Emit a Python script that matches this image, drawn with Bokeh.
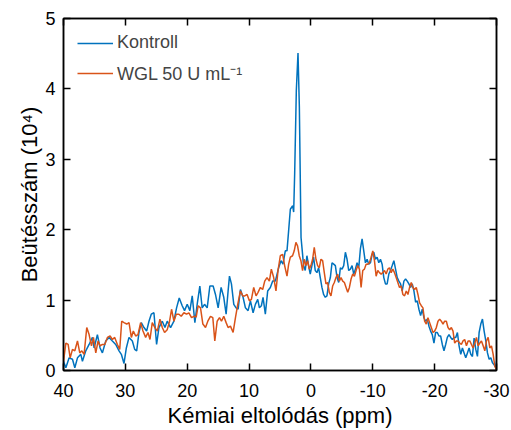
from bokeh.plotting import figure
from bokeh.models import Range1d, FixedTicker, LinearAxis, Legend, LegendItem, ColumnDataSource
from bokeh.embed import file_html
from bokeh.resources import INLINE

# ---- data ----
kontroll_ppm = [
    40.0, 39.62, 39.09, 38.55, 38.17, 37.74, 37.2, 36.94, 36.4, 35.86,
    35.32, 35.05, 34.52, 34.09, 33.71, 33.17, 32.63, 32.1, 31.56, 31.02,
    30.65, 30.22, 29.84, 29.41, 28.87, 28.49, 28.17, 27.8, 27.42, 26.99,
    26.56, 26.18, 25.81, 25.38, 24.95, 24.57, 24.03, 23.6, 23.23, 22.69,
    22.15, 21.72, 21.29, 20.81, 20.43, 20.0, 19.57, 19.19, 18.76, 18.39,
    17.96, 17.58, 17.2, 16.77, 16.34, 15.81, 15.43, 15.0, 14.52, 14.09,
    13.71, 13.39, 13.17, 12.85, 12.47, 12.1, 11.77, 11.4, 10.97, 10.59,
    10.16, 9.78, 9.35, 8.98, 8.6, 8.33, 8.01, 7.74, 7.37, 6.99,
    6.56, 6.18, 5.75, 5.22, 4.84, 4.52, 4.14, 3.87, 3.6, 3.33,
    2.95, 2.79, 2.63, 2.36, 2.09, 1.87, 1.6,
    1.35, 1.19, 0.92, 0.65, 0.38, 0.11, -0.16, -0.43, -0.7, -0.97,
    -1.24, -1.51, -1.78, -2.05, -2.32, -2.59, -2.86, -3.14, -3.41, -3.68,
    -3.95, -4.22, -4.49, -4.76, -5.03, -5.3, -5.57, -5.84, -6.11, -6.38,
    -6.65, -6.92, -7.19, -7.46, -7.73, -8.0, -8.27, -8.54, -8.81, -9.08,
    -9.35, -9.62, -9.89, -10.16, -10.43, -10.7, -10.97, -11.24, -11.51, -11.78,
    -12.05, -12.32, -12.59, -12.86, -13.14, -13.41, -13.68, -13.95, -14.22, -14.49,
    -14.76, -15.03, -15.3, -15.57, -15.84, -16.11, -16.38, -16.65, -16.92, -17.19,
    -17.46, -17.73, -18.0, -18.27, -18.54, -18.81, -19.08, -19.35, -19.62, -19.89,
    -20.16, -20.43, -20.7, -20.97, -21.24, -21.51, -21.78, -22.05, -22.32, -22.59,
    -22.86, -23.14, -23.41, -23.68, -23.95, -24.22, -24.49, -24.76, -25.03, -25.3,
    -25.57, -25.84, -26.11, -26.38, -26.65, -26.92, -27.19, -27.46, -27.73, -28.0,
    -28.27, -28.54, -28.81, -29.08, -29.35, -29.62, -29.89, -30.0,
]
kontroll_counts = [
    0.13, 0.04, 0.18, 0.16, 0.04, 0.18, 0.23, 0.13, 0.28, 0.37,
    0.47, 0.32, 0.51, 0.32, 0.25, 0.42, 0.47, 0.42, 0.37, 0.28,
    0.23, 0.10, 0.32, 0.47, 0.42, 0.30, 0.28, 0.54, 0.68, 0.61,
    0.56, 0.70, 0.80, 0.82, 0.37, 0.61, 0.70, 0.61, 0.70, 0.61,
    0.70, 0.89, 1.03, 0.92, 0.85, 0.94, 0.85, 1.06, 0.68, 0.94,
    1.20, 0.89, 0.94, 0.89, 1.20, 1.20, 1.08, 0.89, 1.18, 1.04,
    0.80, 1.13, 1.34, 1.23, 0.94, 0.89, 0.87, 1.15, 1.04, 0.89,
    0.85, 0.99, 0.82, 0.94, 1.01, 0.89, 0.92, 1.04, 0.80, 1.13,
    1.18, 1.27, 1.27, 1.46, 1.56, 1.51, 1.70, 1.70, 1.99, 2.29,
    2.34, 2.25, 2.79, 3.98, 4.51, 3.74, 1.89,
    1.65, 1.49, 1.42, 1.63, 1.49, 1.37, 1.49, 1.61, 1.42, 1.39,
    1.46, 1.32, 1.18, 1.08, 1.04, 1.06, 1.23, 1.32, 1.53, 1.51,
    1.49, 1.32, 1.25, 1.46, 1.44, 1.49, 1.68, 1.58, 1.42, 1.44,
    1.49, 1.37, 1.44, 1.53, 1.46, 1.73, 1.87, 1.70, 1.53, 1.58,
    1.51, 1.53, 1.65, 1.68, 1.58, 1.61, 1.53, 1.58, 1.51, 1.32,
    1.23, 1.23, 1.37, 1.42, 1.49, 1.56, 1.44, 1.32, 1.27, 1.23,
    1.13, 1.27, 1.30, 1.27, 1.23, 1.18, 1.23, 1.13, 0.97, 0.99,
    0.87, 0.78, 0.87, 0.75, 0.70, 0.73, 0.63, 0.56, 0.51, 0.39,
    0.54, 0.54, 0.49, 0.49, 0.37, 0.28, 0.37, 0.47, 0.51, 0.47,
    0.44, 0.47, 0.47, 0.54, 0.35, 0.23, 0.32, 0.25, 0.18, 0.25,
    0.32, 0.23, 0.20, 0.46, 0.30, 0.20, 0.54, 0.66, 0.73, 0.56,
    0.42, 0.25, 0.16, 0.18, 0.11, 0.08, 0.04, 0.13,
]

wgl_ppm = [
    40.0, 39.62, 39.25, 38.92, 38.55, 38.17, 37.74, 37.37, 37.04, 36.67,
    36.24, 35.86, 35.48, 35.16, 34.78, 34.41, 34.09, 33.71, 33.33, 32.9,
    32.47, 32.1, 31.72, 31.29, 30.91, 30.59, 30.22, 29.78, 29.41, 29.03,
    28.71, 28.33, 27.96, 27.53, 27.15, 26.72, 26.34, 26.02, 25.65, 25.22,
    24.84, 24.41, 24.03, 23.66, 23.23, 22.85, 22.53, 22.15, 21.77, 21.34,
    20.97, 20.54, 20.11, 19.73, 19.3, 18.92, 18.55, 18.23, 17.85, 17.47,
    17.04, 16.67, 16.24, 15.86, 15.54, 15.16, 14.78, 14.46, 14.09, 13.71,
    13.39, 13.01, 12.58, 12.2, 11.83, 11.4, 11.02, 10.7, 10.32, 9.95,
    9.62, 9.25, 8.87, 8.55, 8.17, 7.8, 7.47, 7.1, 6.72, 6.4,
    6.02, 5.65, 5.32, 4.95, 4.57, 4.25, 3.87, 3.6, 3.33,
    2.97, 2.7, 2.43, 2.16, 1.89, 1.62, 1.35, 1.08, 0.81, 0.54,
    0.27, 0.0, -0.27, -0.54, -0.81, -1.08, -1.35, -1.62, -1.89, -2.16,
    -2.43, -2.7, -2.97, -3.24, -3.51, -3.78, -4.05, -4.32, -4.59, -4.86,
    -5.14, -5.41, -5.68, -5.95, -6.22, -6.49, -6.76, -7.03, -7.3, -7.57,
    -7.84, -8.11, -8.38, -8.65, -8.92, -9.19, -9.46, -9.73, -10.0, -10.27,
    -10.54, -10.81, -11.08, -11.35, -11.62, -11.89, -12.16, -12.43, -12.7, -12.97,
    -13.24, -13.51, -13.78, -14.05, -14.32, -14.59, -14.86, -15.14, -15.41, -15.68,
    -15.95, -16.22, -16.49, -16.76, -17.03, -17.3, -17.57, -17.84, -18.11, -18.38,
    -18.65, -18.92, -19.19, -19.46, -19.73, -20.0, -20.27, -20.54, -20.81, -21.08,
    -21.35, -21.62, -21.89, -22.16, -22.43, -22.7, -22.97, -23.24, -23.51, -23.78,
    -24.05, -24.32, -24.59, -24.86, -25.14, -25.41, -25.68, -25.95, -26.22, -26.49,
    -26.76, -27.03, -27.3, -27.57, -27.84, -28.11, -28.38, -28.65, -28.92, -29.19,
    -29.46, -29.73, -30.0,
]
wgl_counts = [
    0.13, 0.39, 0.37, 0.18, 0.30, 0.28, 0.42, 0.25, 0.28, 0.23,
    0.61, 0.51, 0.35, 0.47, 0.25, 0.42, 0.35, 0.37, 0.37, 0.47,
    0.49, 0.44, 0.47, 0.37, 0.30, 0.70, 0.68, 0.66, 0.68, 0.47,
    0.56, 0.49, 0.51, 0.68, 0.56, 0.47, 0.54, 0.44, 0.68, 0.61,
    0.56, 0.73, 0.61, 0.54, 0.58, 0.70, 0.87, 0.70, 0.80, 0.80,
    0.77, 0.82, 0.80, 0.82, 0.75, 0.77, 0.76, 0.92, 0.89, 0.66,
    0.61, 0.70, 0.77, 0.75, 0.42, 0.70, 0.75, 0.70, 0.77, 0.68,
    0.61, 0.63, 0.54, 0.75, 0.94, 1.13, 1.06, 1.06, 1.08, 0.99,
    1.01, 1.18, 1.06, 1.11, 1.18, 1.15, 1.27, 1.32, 1.27, 1.44,
    1.32, 1.13, 1.42, 1.63, 1.65, 1.49, 1.34, 1.51, 1.61,
    1.63, 1.70, 1.82, 1.77, 1.63, 1.56, 1.42, 1.58, 1.49, 1.56,
    1.44, 1.49, 1.58, 1.75, 1.58, 1.49, 1.46, 1.58, 1.56, 1.39,
    1.23, 1.25, 1.11, 1.06, 1.20, 1.25, 1.32, 1.37, 1.27, 1.32,
    1.27, 1.25, 1.18, 1.11, 1.18, 1.30, 1.37, 1.34, 1.42, 1.49,
    1.44, 1.18, 1.42, 1.44, 1.51, 1.51, 1.53, 1.61, 1.70, 1.56,
    1.34, 1.42, 1.39, 1.37, 1.39, 1.42, 1.37, 1.44, 1.46, 1.39,
    1.44, 1.39, 1.32, 1.25, 1.18, 1.20, 1.08, 1.06, 1.13, 1.08,
    1.18, 1.25, 1.18, 1.15, 1.18, 1.08, 0.96, 0.92, 0.89, 0.70,
    0.66, 0.75, 0.68, 0.61, 0.54, 0.56, 0.61, 0.70, 0.73, 0.70,
    0.66, 0.70, 0.70, 0.61, 0.58, 0.61, 0.56, 0.39, 0.42, 0.42,
    0.39, 0.37, 0.42, 0.44, 0.35, 0.42, 0.42, 0.37, 0.32, 0.39,
    0.47, 0.35, 0.39, 0.42, 0.35, 0.28, 0.42, 0.47, 0.32, 0.35,
    0.23, 0.06, 0.01,
]
assert len(kontroll_ppm) == len(kontroll_counts)
assert len(wgl_ppm) == len(wgl_counts)

x_ticks = [40, 30, 20, 10, 0, -10, -20, -30]
x_tick_labels = ["40", "30", "20", "10", "0", "-10", "-20", "-30"]
y_ticks = [0, 1, 2, 3, 4, 5]
series_labels = ["Kontroll", "WGL 50 U mL\u207b\u00b9"]
x_title = "Kémiai eltolódás (ppm)"
y_title = "Beütésszám (10\u2074)"
colors = ["#0072BD", "#D95319"]

FONT = "Liberation Sans"

p = figure(width=511, height=430, output_backend="svg", toolbar_location=None,
           x_range=Range1d(40, -30), y_range=Range1d(0, 5),
           min_border_left=63, min_border_right=15, min_border_top=18, min_border_bottom=60,
           title=y_title, title_location="left")
p.xgrid.visible = False
p.ygrid.visible = False
p.outline_line_color = "black"
p.outline_line_width = 1.5
p.background_fill_color = "white"

# y title as the figure's left-side title, nudged down like the reference
p.title.align = "center"
p.title.offset = -26
p.title.standoff = 2
p.title.text_font = FONT
p.title.text_font_size = "22px"
p.title.text_font_style = "normal"
p.title.text_color = "black"

src_k = ColumnDataSource(dict(x=kontroll_ppm, y=kontroll_counts))
src_w = ColumnDataSource(dict(x=wgl_ppm, y=wgl_counts))
r_k = p.line("x", "y", source=src_k, line_color=colors[0], line_width=1.5)
r_w = p.line("x", "y", source=src_w, line_color=colors[1], line_width=1.5)

def style(ax, labels=True):
    ax.axis_line_color = "black"
    ax.axis_line_width = 1.5
    ax.major_tick_in = 7
    ax.major_tick_out = 0
    ax.major_tick_line_width = 1.5
    ax.minor_tick_line_color = None
    ax.major_label_text_font = FONT
    ax.major_label_text_font_size = "18px" if labels else "0px"
    ax.major_label_text_color = "black" if labels else None
    ax.axis_label_text_font = FONT
    ax.axis_label_text_font_size = "22px"
    ax.axis_label_text_font_style = "normal"
    ax.axis_label_text_color = "black"

p.xaxis.ticker = FixedTicker(ticks=x_ticks)
p.yaxis.ticker = FixedTicker(ticks=y_ticks)
style(p.xaxis[0]); style(p.yaxis[0])
p.xaxis.major_label_overrides = {t: s for t, s in zip(x_ticks, x_tick_labels)}
p.xaxis.axis_label = x_title
p.xaxis.major_label_standoff = 13
p.yaxis.major_label_standoff = 8
p.xaxis.axis_label_standoff = 3

top = LinearAxis(ticker=FixedTicker(ticks=x_ticks), major_label_standoff=0, axis_label_standoff=0)
right = LinearAxis(ticker=FixedTicker(ticks=y_ticks), major_label_standoff=0, axis_label_standoff=0)
style(top, False); style(right, False)
p.add_layout(top, "above")
p.add_layout(right, "right")

legend = Legend(items=[LegendItem(label=series_labels[0], renderers=[r_k]),
                       LegendItem(label=series_labels[1], renderers=[r_w])],
                location="top_left", margin=14, padding=0, spacing=8,
                glyph_width=36, glyph_height=20, label_height=20, label_standoff=4,
                label_text_font=FONT, label_text_font_size="18px",
                border_line_color=None, background_fill_alpha=0)
p.add_layout(legend, "center")

open("out.html", "w").write(file_html(p, INLINE))
